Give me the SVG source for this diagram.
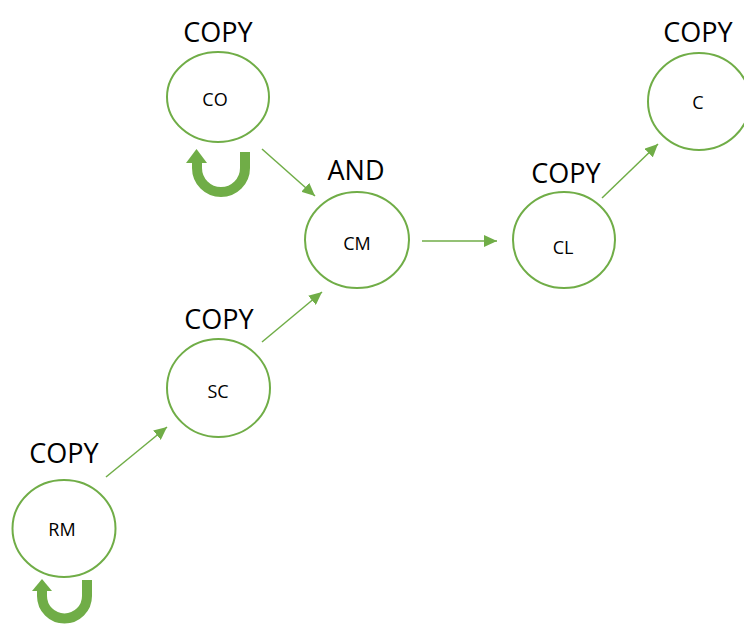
<svg xmlns="http://www.w3.org/2000/svg" width="744" height="624" viewBox="0 0 744 624">
<style>
.node ellipse{fill:#ffffff;stroke:#70AD47;stroke-width:2}
.op{font-family:"Open Sans","Liberation Sans",sans-serif;font-size:27px;fill:#000;text-anchor:middle}
.lbl{font-family:"Open Sans","Liberation Sans",sans-serif;font-size:18px;fill:#000;text-anchor:middle}
.edge{stroke:#70AD47;stroke-width:1.5;fill:none;marker-end:url(#ah)}
.loop{stroke:#70AD47;stroke-width:10;fill:none}
.loophead{fill:#70AD47}
</style>
<defs>
<marker id="ah" markerUnits="userSpaceOnUse" markerWidth="14" markerHeight="12" refX="13" refY="6" orient="auto">
<path d="M0,0 L13,6 L0,12 Z" fill="#70AD47"/>
</marker>
</defs>
<rect width="744" height="624" fill="#ffffff"/>
<g id="connectors">
<line class="edge" x1="262" y1="149" x2="315" y2="196"/>
<line class="edge" x1="422" y1="241" x2="497" y2="241"/>
<line class="edge" x1="602" y1="198" x2="658" y2="144"/>
<line class="edge" x1="262" y1="342" x2="322" y2="292"/>
<line class="edge" x1="106" y1="477" x2="167" y2="427"/>
<path class="loop" d="M245 152 V168 A24 24 0 0 1 197 168 V162"/>
<polygon class="loophead" points="186,163 207,163 196.5,149"/>
<path class="loop" d="M87 580 V596 A22.5 22.5 0 0 1 42 596 V590"/>
<polygon class="loophead" points="32,591 52,591 42,579"/>
</g>
<g id="CO" class="node">
<text class="op" x="218" y="42">COPY</text>
<ellipse cx="218" cy="97" rx="51" ry="45"/>
<text class="lbl" x="215" y="106">CO</text>
</g>
<g id="CM" class="node">
<text class="op" x="356" y="180">AND</text>
<ellipse cx="357" cy="240" rx="52" ry="48"/>
<text class="lbl" x="357" y="250">CM</text>
</g>
<g id="CL" class="node">
<text class="op" x="566" y="183">COPY</text>
<ellipse cx="564" cy="240" rx="51" ry="48"/>
<text class="lbl" x="563" y="254">CL</text>
</g>
<g id="C" class="node">
<text class="op" x="698" y="42">COPY</text>
<ellipse cx="699" cy="101.5" rx="51" ry="48.5"/>
<text class="lbl" x="698" y="109">C</text>
</g>
<g id="SC" class="node">
<text class="op" x="219" y="329">COPY</text>
<ellipse cx="218.5" cy="388" rx="51.5" ry="49"/>
<text class="lbl" x="218" y="398">SC</text>
</g>
<g id="RM" class="node">
<text class="op" x="64" y="463">COPY</text>
<ellipse cx="64" cy="528.5" rx="51.5" ry="48.5"/>
<text class="lbl" x="62" y="536">RM</text>
</g>
</svg>
